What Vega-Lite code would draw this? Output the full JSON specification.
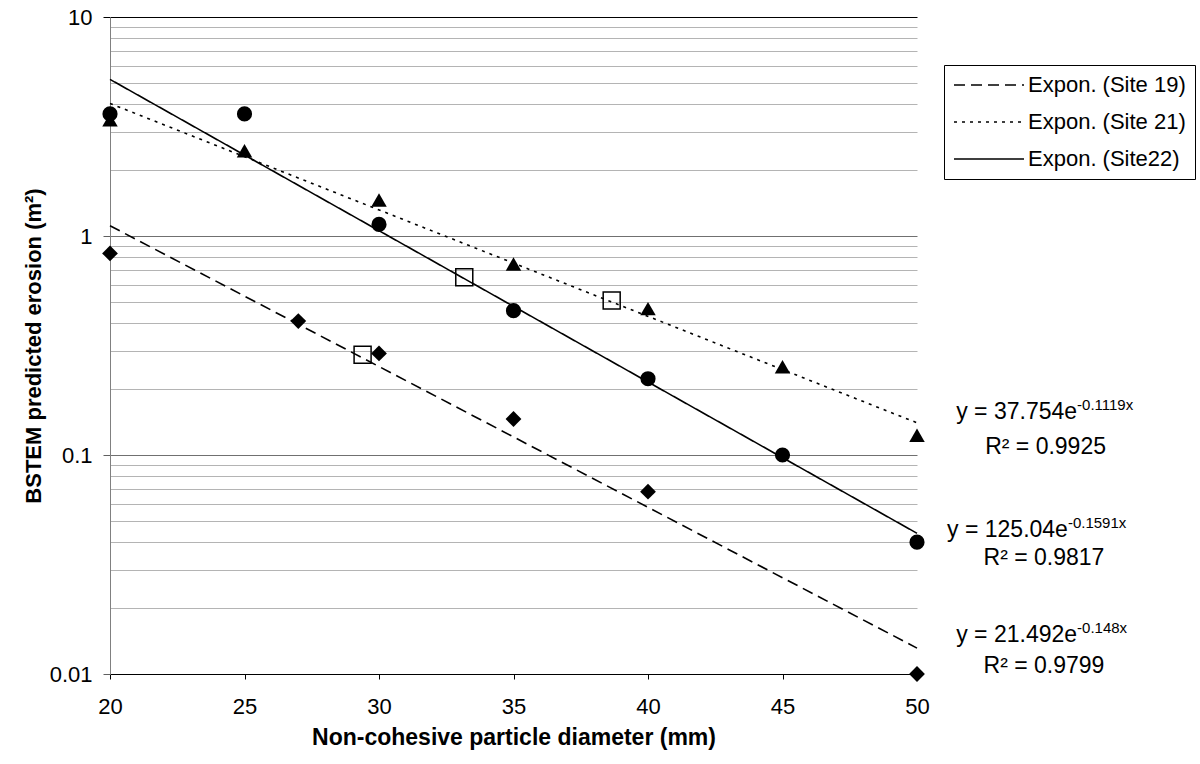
{
  "$schema": "https://vega.github.io/schema/vega-lite/v6.json",
  "width": 807,
  "height": 657,
  "autosize": {"type": "none"},
  "padding": {"left": 110, "top": 17, "right": 283, "bottom": 90},
  "background": "white",
  "config": {
    "font": "Liberation Sans",
    "view": {"stroke": null}
  },
  "datasets": {
    "trend": [
      {"series": "Expon. (Site 19)", "x": 20, "y": 1.114},
      {"series": "Expon. (Site 19)", "x": 50, "y": 0.01313},
      {"series": "Expon. (Site 21)", "x": 20, "y": 4.03},
      {"series": "Expon. (Site 21)", "x": 50, "y": 0.1403},
      {"series": "Expon. (Site22)", "x": 20, "y": 5.19},
      {"series": "Expon. (Site22)", "x": 50, "y": 0.0439}
    ],
    "points": [
      {"site": "Site 19", "x": 20, "y": 0.833},
      {"site": "Site 19", "x": 27, "y": 0.409},
      {"site": "Site 19", "x": 30, "y": 0.291},
      {"site": "Site 19", "x": 35, "y": 0.146},
      {"site": "Site 19", "x": 40, "y": 0.068},
      {"site": "Site 19", "x": 50, "y": 0.01},
      {"site": "Site 21", "x": 20, "y": 3.39},
      {"site": "Site 21", "x": 25, "y": 2.45},
      {"site": "Site 21", "x": 30, "y": 1.46},
      {"site": "Site 21", "x": 35, "y": 0.745},
      {"site": "Site 21", "x": 40, "y": 0.466},
      {"site": "Site 21", "x": 45, "y": 0.253},
      {"site": "Site 21", "x": 50, "y": 0.123},
      {"site": "Site 22", "x": 20, "y": 3.61},
      {"site": "Site 22", "x": 25, "y": 3.61},
      {"site": "Site 22", "x": 30, "y": 1.13},
      {"site": "Site 22", "x": 35, "y": 0.456},
      {"site": "Site 22", "x": 40, "y": 0.223},
      {"site": "Site 22", "x": 45, "y": 0.1},
      {"site": "Site 22", "x": 50, "y": 0.04}
    ],
    "extra": [
      {"x": 29.39, "y": 0.287},
      {"x": 33.17, "y": 0.648},
      {"x": 38.65, "y": 0.507}
    ],
    "eqs": [
      {"main": "y = 37.754e", "sup": "-0.1119x", "x": 55.95, "y": 0.146},
      {"main": "y = 125.04e", "sup": "-0.1591x", "x": 55.61, "y": 0.04222},
      {"main": "y = 21.492e", "sup": "-0.148x", "x": 55.95, "y": 0.014}
    ],
    "r2": [
      {"text": "R² = 0.9925", "x": 54.78, "y": 0.1011},
      {"text": "R² = 0.9817", "x": 54.72, "y": 0.03146},
      {"text": "R² = 0.9799", "x": 54.72, "y": 0.01011}
    ]
  },
  "layer": [
    {
      "data": {"name": "trend"},
      "mark": {"type": "line", "stroke": "black", "strokeWidth": 1.6, "clip": false},
      "encoding": {
        "x": {
          "field": "x", "type": "quantitative",
          "scale": {"domain": [20, 50], "nice": false, "zero": false},
          "axis": {
            "values": [20, 25, 30, 35, 40, 45, 50],
            "grid": false,
            "domainColor": "black", "domainWidth": 1,
            "tickColor": "black", "tickSize": 5,
            "labelFont": "Liberation Sans", "labelFontSize": 22, "labelColor": "black",
            "labelPadding": 17, "labelFlush": false,
            "title": "Non-cohesive particle diameter (mm)",
            "titleFont": "Liberation Sans", "titleFontSize": 23, "titleFontWeight": "bold",
            "titleColor": "black", "titlePadding": 9
          }
        },
        "y": {
          "field": "y", "type": "quantitative",
          "scale": {"type": "log", "domain": [0.01, 10], "nice": false},
          "axis": {
            "values": [0.01, 0.02, 0.03, 0.04, 0.05, 0.06, 0.07, 0.08, 0.09, 0.1, 0.2, 0.3, 0.4, 0.5, 0.6, 0.7, 0.8, 0.9, 1, 2, 3, 4, 5, 6, 7, 8, 9, 10],
            "grid": true,
            "gridColor": {
              "condition": [
                {"test": "datum.value === 10", "value": "#000000"},
                {"test": "datum.value === 0.01 || datum.value === 0.1 || datum.value === 1", "value": "#707070"}
              ],
              "value": "#b4b4b4"
            },
            "gridWidth": 1,
            "domainColor": "#808080", "domainWidth": 1,
            "tickColor": {"condition": {"test": "datum.value === 10", "value": "#000000"}, "value": "#606060"},
            "tickSize": {"condition": {"test": "datum.value === 0.01 || datum.value === 0.1 || datum.value === 1 || datum.value === 10", "value": 7}, "value": 0},
            "labelExpr": "datum.value === 0.01 || datum.value === 0.1 || datum.value === 1 || datum.value === 10 ? format(datum.value, '~g') : ''",
            "labelOverlap": false, "labelFlush": false,
            "labelFont": "Liberation Sans", "labelFontSize": 22, "labelColor": "black",
            "labelPadding": 11,
            "title": "BSTEM predicted erosion (m²)",
            "titleFont": "Liberation Sans", "titleFontSize": 22, "titleFontWeight": "bold",
            "titleColor": "black", "titlePadding": 4
          }
        },
        "strokeDash": {
          "field": "series", "type": "nominal",
          "scale": {
            "domain": ["Expon. (Site 19)", "Expon. (Site 21)", "Expon. (Site22)"],
            "range": [[11, 6], [3, 5], [1, 0]]
          },
          "legend": {
            "title": null, "orient": "none", "legendX": 834, "legendY": 48,
            "direction": "vertical",
            "strokeColor": "black", "fillColor": "white", "padding": 9,
            "labelFont": "Liberation Sans", "labelFontSize": 22, "labelColor": "black",
            "labelLimit": 400,
            "symbolType": "M-1,0H6", "symbolSize": 400, "symbolStrokeWidth": 1.6,
            "symbolStrokeColor": "black", "symbolFillColor": "transparent",
            "labelOffset": 53, "rowPadding": 15
          }
        }
      }
    },
    {
      "data": {"name": "points"},
      "mark": {"type": "point", "filled": true, "color": "black", "opacity": 1, "clip": false},
      "encoding": {
        "x": {"field": "x", "type": "quantitative"},
        "y": {"field": "y", "type": "quantitative"},
        "shape": {
          "field": "site", "type": "nominal",
          "scale": {"domain": ["Site 19", "Site 21", "Site 22"], "range": ["diamond", "triangle-up", "circle"]},
          "legend": null
        },
        "size": {
          "field": "site", "type": "nominal",
          "scale": {"domain": ["Site 19", "Site 21", "Site 22"], "range": [250, 230, 121]},
          "legend": null
        }
      }
    },
    {
      "data": {"name": "extra"},
      "mark": {"type": "point", "shape": "square", "filled": false, "stroke": "black", "strokeWidth": 1.5, "size": 289, "opacity": 1},
      "encoding": {
        "x": {"field": "x", "type": "quantitative"},
        "y": {"field": "y", "type": "quantitative"}
      }
    },
    {
      "data": {"name": "eqs"},
      "mark": {"type": "text", "align": "right", "baseline": "alphabetic", "fontSize": 23, "font": "Liberation Sans", "color": "black"},
      "encoding": {
        "x": {"field": "x", "type": "quantitative"},
        "y": {"field": "y", "type": "quantitative"},
        "text": {"field": "main"}
      }
    },
    {
      "data": {"name": "eqs"},
      "mark": {"type": "text", "align": "left", "baseline": "alphabetic", "fontSize": 15, "dy": -9, "font": "Liberation Sans", "color": "black"},
      "encoding": {
        "x": {"field": "x", "type": "quantitative"},
        "y": {"field": "y", "type": "quantitative"},
        "text": {"field": "sup"}
      }
    },
    {
      "data": {"name": "r2"},
      "mark": {"type": "text", "align": "center", "baseline": "alphabetic", "fontSize": 23, "font": "Liberation Sans", "color": "black"},
      "encoding": {
        "x": {"field": "x", "type": "quantitative"},
        "y": {"field": "y", "type": "quantitative"},
        "text": {"field": "text"}
      }
    }
  ]
}
